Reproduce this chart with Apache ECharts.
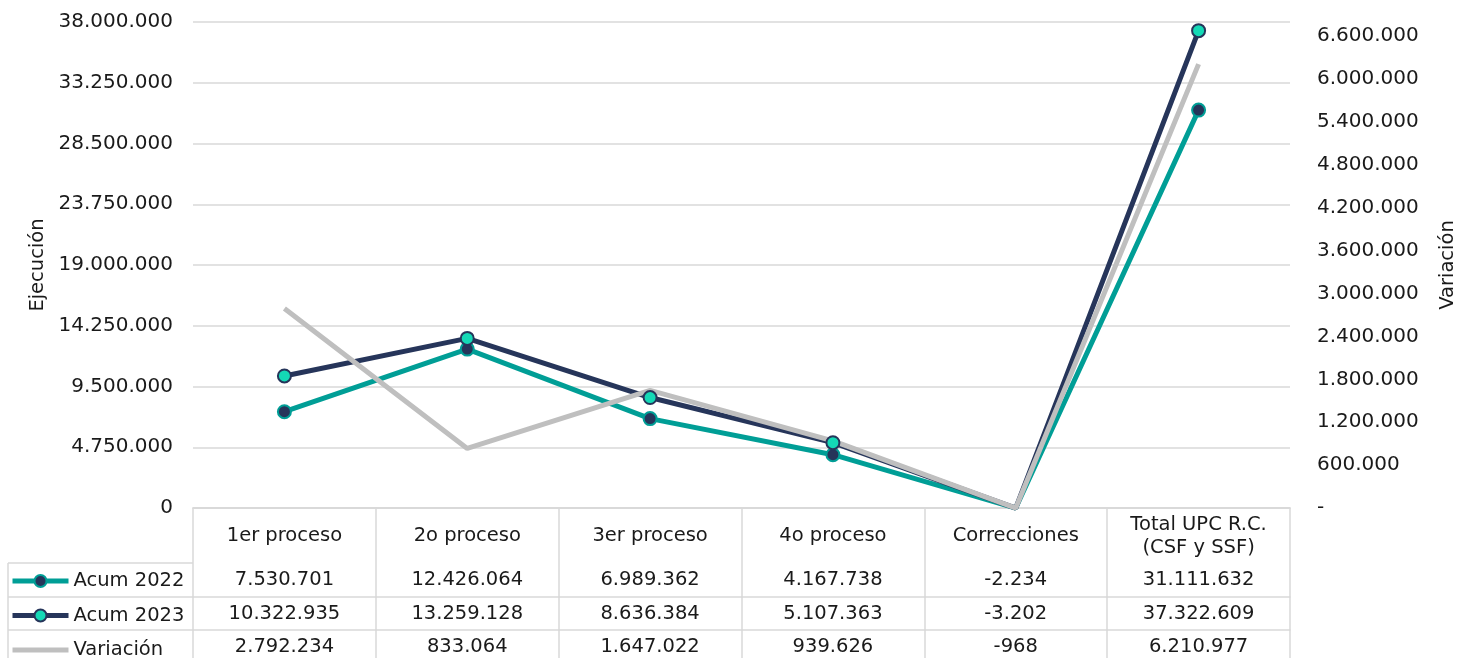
<!DOCTYPE html>
<html>
<head>
<meta charset="utf-8">
<script src="https://cdn.jsdelivr.net/npm/echarts@6.0.0/dist/echarts.min.js"></script>
<style>
  html, body { margin: 0; padding: 0; background: #fff; }
  #chart { width: 1460px; height: 658px; }
</style>
</head>
<body>
<div id="chart"></div>
<script>
'use strict';

/* Chart data */
var categories = ['1er proceso', '2o proceso', '3er proceso', '4o proceso', 'Correcciones', 'Total UPC R.C.\n(CSF y SSF)'];
var acum2022 = [7530701, 12426064, 6989362, 4167738, -2234, 31111632];
var acum2023 = [10322935, 13259128, 8636384, 5107363, -3202, 37322609];
var variacion = [2792234, 833064, 1647022, 939626, -968, 6210977];
var seriesNames = ['Acum 2022', 'Acum 2023', 'Variación'];

/* layout */
var gridLeft = 193, gridRight = 170, gridTop = 22, gridBottom = 150;
var rowOffsets = [55, 89, 122];
var lineGray = '#d9d9d9';
var textColor = '#1a1a1a';
var font = 'DejaVu Sans, Verdana, sans-serif';

function fmt(v) {
    var s = Math.abs(Math.round(v)).toString().replace(/\B(?=(\d{3})+(?!\d))/g, '.');
    return (v < 0 ? '-' : '') + s;
}

/* no marker where the value drops to zero or below */
function points(arr) {
    return arr.map(function (v) {
        return v <= 0 ? { value: v, symbol: 'none' } : v;
    });
}

var rows = [acum2022, acum2023, variacion];

var xAxes = [{
    type: 'category',
    data: categories,
    position: 'bottom',
    boundaryGap: true,
    axisLine: { lineStyle: { color: lineGray, width: 1.5 } },
    axisTick: { show: true, length: 150, lineStyle: { color: lineGray, width: 1.5 } },
    axisLabel: {
        interval: 0, margin: 28, verticalAlign: 'middle',
        fontSize: 19.5, lineHeight: 23, color: textColor, fontFamily: font
    }
}];
rows.forEach(function (row, i) {
    xAxes.push({
        type: 'category',
        data: categories,
        position: 'bottom',
        offset: rowOffsets[i],
        boundaryGap: true,
        axisLine: { lineStyle: { color: lineGray, width: 1.5 } },
        axisTick: { show: false },
        axisLabel: {
            interval: 0, margin: 17, verticalAlign: 'middle',
            fontSize: 19.5, color: textColor, fontFamily: font,
            formatter: function (val, idx) { return fmt(row[idx]); }
        }
    });
});

/* left legend column borders */
var h = 658;
var graphics = [];
rowOffsets.forEach(function (off) {
    graphics.push({
        type: 'line',
        shape: { x1: 8, y1: h - gridBottom + off, x2: gridLeft, y2: h - gridBottom + off },
        style: { stroke: lineGray, lineWidth: 1.5 }
    });
});
graphics.push({
    type: 'line',
    shape: { x1: 8, y1: h - gridBottom + rowOffsets[0], x2: 8, y2: h },
    style: { stroke: lineGray, lineWidth: 1.5 }
});

var chart = echarts.init(document.getElementById('chart'));

chart.setOption({
    animation: false,
    textStyle: { fontFamily: font },
    grid: {
        left: gridLeft, right: gridRight, top: gridTop, bottom: gridBottom,
        outerBoundsMode: 'none'
    },
    legend: {
        orient: 'vertical',
        left: 5,
        top: 566,
        height: 120,
        itemWidth: 56,
        itemHeight: 15,
        itemGap: 14.5,
        selectedMode: false,
        lineStyle: { width: 'inherit' },
        textStyle: { fontSize: 19.5, color: textColor, fontFamily: font },
        data: [seriesNames[0], seriesNames[1], { name: seriesNames[2], itemStyle: { opacity: 0 } }]
    },
    xAxis: xAxes,
    yAxis: [{
        type: 'value',
        min: 0,
        max: 38000000,
        interval: 4750000,
        name: 'Ejecución',
        nameLocation: 'middle',
        nameGap: 144,
        nameTextStyle: { fontSize: 19.5, color: textColor, fontFamily: font },
        axisLine: { show: false },
        axisTick: { show: false },
        splitLine: { lineStyle: { color: lineGray, width: 1.5 } },
        axisLabel: { fontSize: 20, color: textColor, margin: 20, fontFamily: font, formatter: fmt }
    }, {
        type: 'value',
        min: 0,
        max: 6800000,
        interval: 600000,
        name: 'Variación',
        nameLocation: 'middle',
        nameGap: 148,
        nameTextStyle: { fontSize: 19.5, color: textColor, fontFamily: font },
        axisLine: { show: false },
        axisTick: { show: false },
        splitLine: { show: false },
        axisLabel: {
            fontSize: 20, color: textColor, margin: 27, fontFamily: font, showMaxLabel: false,
            formatter: function (v) { return v === 0 ? '-' : fmt(v); }
        }
    }],
    series: [{
        name: seriesNames[0],
        type: 'line',
        clip: false,
        data: points(acum2022),
        symbol: 'circle',
        symbolSize: 13,
        lineStyle: { color: '#009e96', width: 5 },
        itemStyle: { color: '#26355a', borderColor: '#009e96', borderWidth: 2 }
    }, {
        name: seriesNames[1],
        type: 'line',
        clip: false,
        data: points(acum2023),
        symbol: 'circle',
        symbolSize: 13,
        lineStyle: { color: '#26355a', width: 5 },
        itemStyle: { color: '#14d9b6', borderColor: '#26355a', borderWidth: 2 }
    }, {
        name: seriesNames[2],
        type: 'line',
        clip: false,
        yAxisIndex: 1,
        data: variacion,
        symbol: 'none',
        lineStyle: { color: '#bfbfbf', width: 5 },
        itemStyle: { color: '#bfbfbf' }
    }],
    graphic: graphics
});
</script>
</body>
</html>
